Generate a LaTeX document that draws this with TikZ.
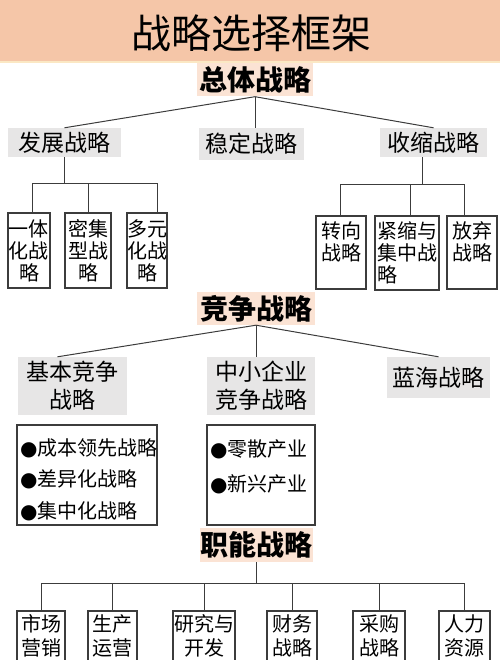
\documentclass[tikz,border=0pt]{standalone}
\usepackage{fontspec}
\setmainfont{Noto Sans CJK SC}
\newfontfamily\dotfont{DejaVu Sans}
\usepackage{tikz}
\usetikzlibrary{
    positioning
}

\definecolor{bandpeach}{HTML}{F5C6A8}
\definecolor{bandedge}{HTML}{FBE8C4}
\definecolor{headpeach}{HTML}{FBE3D4}
\definecolor{subgray}{HTML}{E7E6E6}
\definecolor{linegray}{HTML}{3C3C3C}

\newcommand{\dotitem}{{\dotfont ●}}

\begin{document}
\begin{tikzpicture}[x=1pt,y=-1pt,
    link/.style={draw=linegray, line width=1pt},
    headbox/.style={fill=headpeach, inner sep=0pt, minimum height=33,
        font=\fontsize{28}{30}\selectfont\bfseries},
    subbox/.style={fill=subgray, inner sep=0pt, align=center,
        font=\fontsize{23}{28}\selectfont},
    leafbox/.style={draw=linegray, line width=1.1pt, inner sep=0pt,
        align=center, font=\fontsize{20}{22}\selectfont},
    listbox/.style={draw=linegray, line width=1.1pt, inner sep=0pt,
        minimum height=100},
    listtext/.style={inner sep=0pt, align=left, anchor=north west}
]

\useasboundingbox (0,0) rectangle (500,660);

% Title
\fill[bandpeach] (0,0) rectangle (500,61);
\draw[bandedge, line width=2pt] (0,62) -- (500,62);
\node[font=\fontsize{40}{40}\selectfont] (title) at (251,33) {战略选择框架};

% Corporate level
\node[headbox, minimum width=116] (ztzl) at (255,80) {总体战略};

\node[subbox, minimum width=113, minimum height=29] (fzzl) at (64.5,142.5) {发展战略};
\node[subbox, minimum width=105, minimum height=32] (wdzl) at (251.5,144) {稳定战略};
\node[subbox, minimum width=107, minimum height=29] (sszl) at (433.5,142.5) {收缩战略};

\draw[link] (ztzl.south) -- (fzzl.north);
\draw[link] (ztzl.south) -- (ztzl.south |- wdzl.north);
\draw[link] (ztzl.south) -- (sszl.north);

\node[leafbox, minimum width=42, minimum height=75] (ytzl) at (29,250.5) {一体\\化战\\略};
\node[leafbox, minimum width=46, minimum height=75] (mjzl) at (88,250.5) {密集\\型战\\略};
\node[leafbox, minimum width=40, minimum height=75] (dyzl) at (147,250.5) {多元\\化战\\略};

\coordinate (fzbar) at (65,184);
\draw[link] (fzzl.south) -- (fzzl.south |- fzbar);
\draw[link] (fzzl.south |- fzbar) -| ([xshift=3]ytzl.north);
\draw[link] (fzzl.south |- fzbar) -| (mjzl.north);
\draw[link] (fzzl.south |- fzbar) -| ([xshift=10]dyzl.north);

\node[leafbox, minimum width=50, minimum height=73] (zxzl) at (341,252.5) {转向\\战略\\~};
\node[leafbox, minimum width=64, minimum height=74, align=left] (jszl) at (407,253) {紧缩与\\集中战\\略};
\node[leafbox, minimum width=50, minimum height=73] (fqzl) at (472,252.5) {放弃\\战略\\~};

\coordinate (ssbar) at (422,185);
\draw[link] ([xshift=-11.5]sszl.south) -- ([xshift=-11.5]sszl.south |- ssbar);
\draw[link] ([xshift=-11.5]sszl.south |- ssbar) -| ([xshift=-1]zxzl.north);
\draw[link] ([xshift=-11.5]sszl.south |- ssbar) -| ([xshift=3]jszl.north);
\draw[link] ([xshift=-11.5]sszl.south |- ssbar) -| ([xshift=-8]fqzl.north);

% Business level
\node[headbox, minimum width=118] (jzzl) at (256,308.5) {竞争战略};

\node[subbox, minimum width=109, minimum height=58] (jbjz) at (72.5,386) {基本竞争\\战略};
\node[subbox, minimum width=108, minimum height=58] (zxqy) at (261,386) {中小企业\\竞争战略};
\node[subbox, minimum width=103, minimum height=41] (lhzl) at (438.5,377.5) {蓝海战略};

\draw[link] (jzzl.south) -- ([xshift=-15]jbjz.north);
\draw[link] (jzzl.south) -- (jzzl.south |- zxqy.north);
\draw[link] (jzzl.south) -- (lhzl.north);

\node[listbox, minimum width=140] (jblist) at (87,475) {};
\node[listtext, font=\fontsize{20}{31.5}\selectfont] (jbtext) at (20,438)
    {\dotitem 成本领先战略\\\dotitem 差异化战略\\\dotitem 集中化战略};

\node[listbox, minimum width=108] (zxlist) at (261,475) {};
\node[listtext, font=\fontsize{20}{35}\selectfont] (zxtext) at (210,439)
    {\dotitem 零散产业\\\dotitem 新兴产业};

% Functional level
\node[headbox, minimum width=113, minimum height=34] (znzl) at (256.5,545) {职能战略};

\node[leafbox, minimum width=48, minimum height=50, font=\fontsize{20}{24}\selectfont] (scyx) at (41,636) {市场\\营销};
\node[leafbox, minimum width=49, minimum height=50, font=\fontsize{20}{24}\selectfont] (scyy) at (112.5,636) {生产\\运营};
\node[leafbox, minimum width=62, minimum height=50, font=\fontsize{20}{24}\selectfont] (yfkf) at (204,636) {研究与\\开发};
\node[leafbox, minimum width=50, minimum height=50, font=\fontsize{20}{24}\selectfont] (cwzl) at (292,636) {财务\\战略};
\node[leafbox, minimum width=52, minimum height=50, font=\fontsize{20}{24}\selectfont] (cgzl) at (379,636) {采购\\战略};
\node[leafbox, minimum width=51, minimum height=50, font=\fontsize{20}{24}\selectfont] (rlzy) at (464.5,636) {人力\\资源};

\coordinate (znbar) at (258,583);
\draw[link] (znzl.south) -- (znzl.south |- znbar);
\foreach \leaf in {scyx,scyy,yfkf,cwzl,cgzl,rlzy}{
    \draw[link] (znzl.south |- znbar) -| (\leaf.north);
}

\end{tikzpicture}
\end{document}
